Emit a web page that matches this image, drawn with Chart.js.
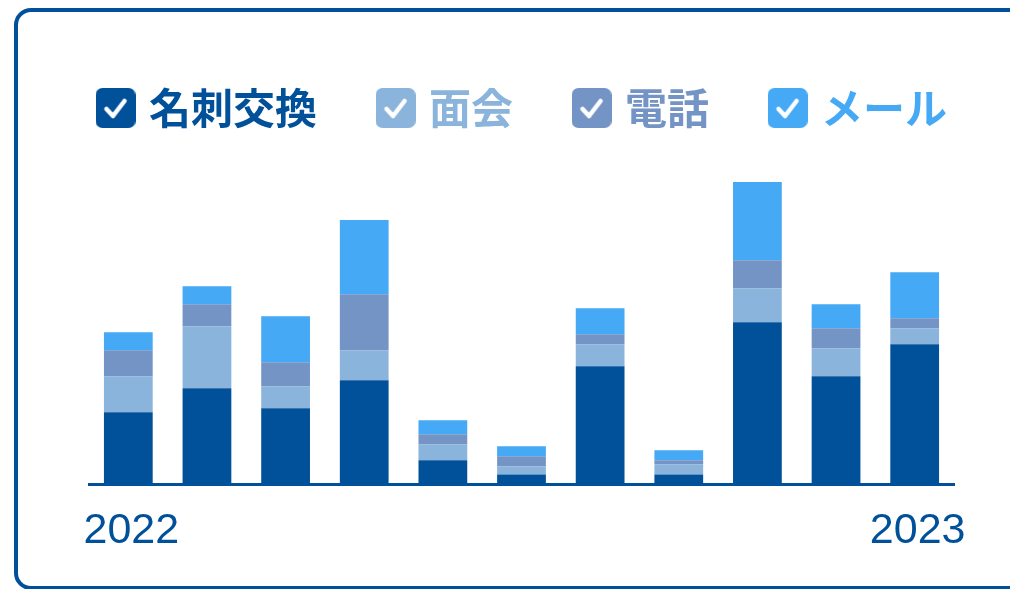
<!DOCTYPE html>
<html>
<head>
<meta charset="utf-8">
<script src="https://cdn.jsdelivr.net/npm/chart.js@4"></script>
<style>
  body { margin: 0; background: #fff; overflow: hidden; }
  #card {
    position: absolute; left: 14px; top: 8px;
    width: 1030px; height: 582px;
    box-sizing: border-box;
    border: 4px solid #00509a; border-radius: 17px;
  }
  #wrap { position: absolute; left: 37px; top: 0; width: 1000px; height: 589px; }
</style>
</head>
<body>
<div id="card"></div>
<div id="wrap"><canvas id="activityChart"></canvas></div>
<script>
var xLabels = ["2022","","","","","","","","","","2023"];
var seriesNames = ["名刺交換","面会","電話","メール"];
var seriesColors = ["#00509a","#8ab4db","#7394c5","#45a9f5"];

var meishi = [36, 48, 38, 52, 12, 5, 59, 5, 81, 54, 70];
var menkai = [18, 31, 11, 15, 8, 4, 11, 5, 17, 14, 8];
var denwa  = [13, 11, 12, 28, 5, 5, 5, 2, 14, 10, 5];
var mail   = [9, 9, 23, 37, 7, 5, 13, 5, 39, 12, 23];

var ctx = document.getElementById('activityChart');

// checkbox icon for the legend
function checkbox (color) {
  var c = document.createElement('canvas');
  c.width = 40; c.height = 40;
  var g = c.getContext('2d');
  g.fillStyle = color;
  g.beginPath();
  g.roundRect(0, 0, 40, 40, 7);
  g.fill();
  g.strokeStyle = '#fff';
  g.lineWidth = 4.5;
  g.lineCap = 'round';
  g.lineJoin = 'round';
  g.beginPath();
  g.moveTo(11, 21);
  g.lineTo(17.5, 28);
  g.lineTo(29, 13);
  g.stroke();
  return c;
}

var allData = [meishi, menkai, denwa, mail];
var datasets = allData.map(function (d, i) {
  return {
    label: seriesNames[i],
    data: d,
    backgroundColor: seriesColors[i],
    barPercentage: 0.62,
    categoryPercentage: 1
  };
});

// empty side axes just to hold the plot area in place
function sideAxis (pos, w) {
  return {
    position: pos,
    display: true,
    grid: { display: false, drawTicks: false },
    border: { display: false },
    ticks: { display: false },
    afterFit: function (scale) { scale.width = w; }
  };
}

var yLeft = sideAxis('left', 52);
yLeft.stacked = true;
yLeft.min = 0;
yLeft.max = 172.5;

var chart = new Chart(ctx, {
  type: 'bar',
  data: {
    labels: xLabels,
    datasets: datasets
  },
  options: {
    responsive: true,
    maintainAspectRatio: false,
    animation: false,
    layout: {
      padding: { top: 21, left: 0, right: 0, bottom: 11 }
    },
    plugins: {
      tooltip: { enabled: false },
      legend: {
        position: 'top',
        align: 'start',
        labels: {
          usePointStyle: true,
          pointStyleWidth: 25,
          padding: 66,
          font: { family: "'Noto Sans CJK JP', sans-serif", size: 42, weight: 'bold' },
          generateLabels: function (chart) {
            return chart.data.datasets.map(function (ds, i) {
              return {
                text: ds.label,
                fillStyle: ds.backgroundColor,
                strokeStyle: ds.backgroundColor,
                fontColor: ds.backgroundColor,
                lineWidth: 0,
                pointStyle: checkbox(ds.backgroundColor),
                hidden: !chart.isDatasetVisible(i),
                datasetIndex: i
              };
            });
          }
        }
      }
    },
    scales: {
      x: {
        stacked: true,
        grid: { display: false, drawTicks: false },
        border: { display: true, color: '#00509a', width: 3 },
        ticks: {
          autoSkip: false,
          maxRotation: 0,
          padding: 21,
          labelOffset: 3,
          color: '#00509a',
          font: { family: "'Liberation Sans', Arial, sans-serif", size: 43 }
        }
      },
      y: yLeft,
      yRight: sideAxis('right', 83)
    }
  }
});
</script>
</body>
</html>
